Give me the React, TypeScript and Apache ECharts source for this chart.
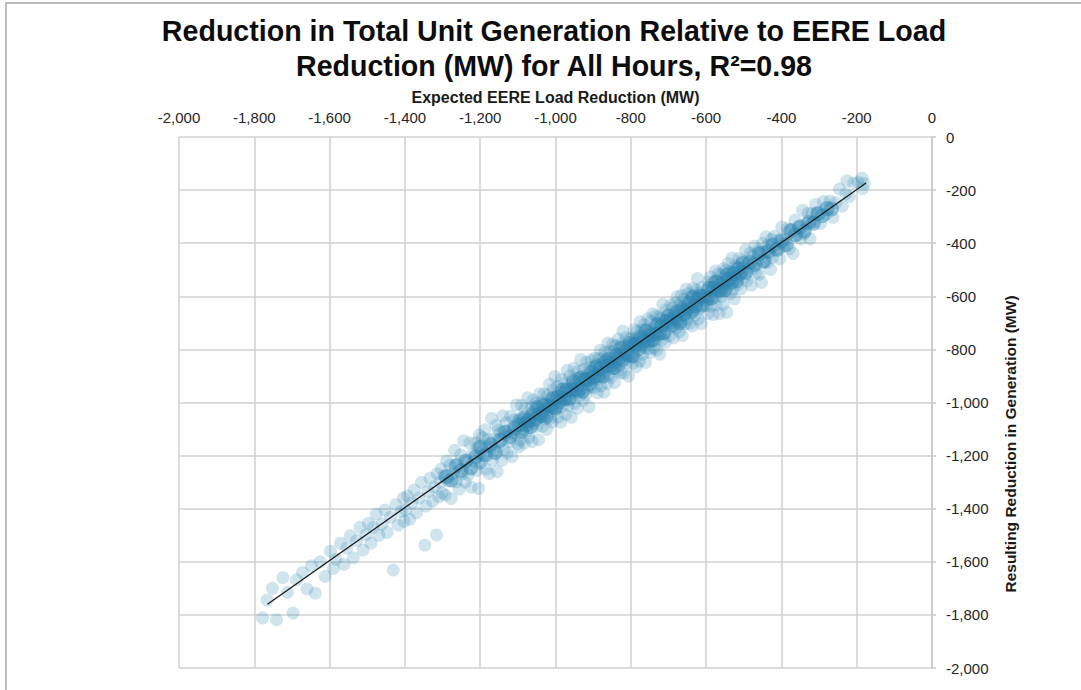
import React, { useEffect, useRef } from "react";
import * as echarts from "echarts";

const titleLines = [
  "Reduction in Total Unit Generation Relative to EERE Load",
  "Reduction (MW) for All Hours, R\u00b2=0.98",
];
const xAxisName = "Expected EERE Load Reduction (MW)";
const yAxisName = "Resulting Reduction in Generation (MW)";
const axisMin = -2000;
const axisMax = 0;
const axisStep = 200;

// Hourly points [expected EERE load reduction, resulting generation reduction], MW
// Wider spread of the cloud
const pointsTail: number[][] = [
  [-1778, -1812], [-1766, -1744], [-1752, -1700], [-1741, -1818], [-1724, -1660], [-1712, -1715],
  [-1697, -1793], [-1688, -1668], [-1672, -1640], [-1660, -1702], [-1648, -1615], [-1638, -1718], [-1625, -1600], [-1612, -1655],
  [-1598, -1560], [-1590, -1625], [-1583, -1590], [-1571, -1530], [-1562, -1610], [-1554, -1548], [-1545, -1502], [-1537, -1585],
  [-1528, -1520], [-1519, -1470], [-1511, -1556], [-1503, -1498],
  [-1497, -1455], [-1490, -1530], [-1484, -1470], [-1476, -1420], [-1469, -1500], [-1461, -1458], [-1453, -1405], [-1447, -1490],
  [-1438, -1432], [-1431, -1631], [-1424, -1385], [-1418, -1462], [-1410, -1410], [-1404, -1360], [-1402, -1448],
  [-1398, -1405], [-1393, -1352], [-1387, -1440], [-1381, -1378], [-1375, -1330], [-1369, -1415], [-1362, -1360], [-1356, -1300],
  [-1347, -1537], [-1344, -1390], [-1338, -1335], [-1333, -1285], [-1327, -1372], [-1322, -1318], [-1316, -1499], [-1314, -1268],
  [-1310, -1355], [-1306, -1300], [-1303, -1250], [-1301, -1340],
];

const pointsLow: number[][] = [
  [-1297, -1277], [-1293, -1348], [-1289, -1219], [-1285, -1295], [-1281, -1236], [-1277, -1362], [-1272, -1267], [-1268, -1180],
  [-1264, -1299], [-1260, -1230], [-1256, -1326], [-1252, -1197], [-1248, -1268], [-1244, -1144], [-1240, -1300], [-1236, -1224],
  [-1232, -1272], [-1228, -1153], [-1224, -1319], [-1220, -1195], [-1216, -1221], [-1212, -1152], [-1209, -1257], [-1206, -1168],
  [-1204, -1324], [-1202, -1122], [-1201, -1229], [-1200, -1192],
  [-1197, -1227], [-1194, -1132], [-1191, -1199], [-1188, -1103], [-1185, -1251], [-1182, -1167], [-1179, -1139], [-1176, -1268],
  [-1173, -1170], [-1170, -1060], [-1167, -1217], [-1164, -1138], [-1161, -1179], [-1158, -1086], [-1155, -1260], [-1152, -1104],
  [-1149, -1152], [-1146, -1113], [-1143, -1218], [-1140, -1050], [-1137, -1177], [-1134, -1124], [-1131, -1076], [-1128, -1190],
  [-1125, -1105], [-1122, -1147], [-1119, -1051], [-1116, -1204], [-1113, -1113], [-1110, -1065], [-1107, -1121], [-1104, -1009],
  [-1101, -1156], [-1099, -1069], [-1097, -1167],
  [-1095, -1060], [-1093, -1141], [-1090, -1010], [-1088, -1100], [-1086, -1064], [-1083, -1153], [-1081, -1023], [-1078, -1073],
  [-1076, -1106], [-1074, -982], [-1071, -1131], [-1069, -1054], [-1066, -1071], [-1064, -1020], [-1062, -1147], [-1059, -991],
  [-1057, -1079], [-1054, -1044], [-1052, -1002], [-1050, -1090], [-1047, -1019], [-1045, -1140], [-1042, -967], [-1040, -1055],
  [-1038, -1000], [-1035, -1090], [-1033, -1031], [-1030, -968], [-1028, -1063], [-1026, -1008], [-1023, -1101], [-1021, -973],
  [-1018, -1026], [-1016, -931], [-1014, -1059], [-1011, -986], [-1009, -1074], [-1006, -951], [-1004, -1022], [-1002, -902],
  [-1001, -1029], [-999, -987],
];

const pointsMid: number[][] = [
  [-997, -1017], [-995, -940], [-993, -1055], [-991, -961], [-988, -980], [-986, -1074], [-984, -912], [-982, -1017],
  [-980, -962], [-977, -982], [-975, -927], [-973, -1045], [-971, -946], [-969, -879], [-966, -1011], [-964, -961],
  [-962, -900], [-960, -985], [-958, -1056], [-955, -915], [-953, -965], [-951, -871], [-949, -1004], [-947, -932],
  [-944, -909], [-942, -1022], [-940, -882], [-938, -940], [-936, -976], [-933, -838], [-931, -949], [-929, -901],
  [-927, -992], [-925, -875], [-922, -912], [-920, -970], [-918, -848], [-916, -946], [-914, -892], [-911, -1016],
  [-909, -867], [-907, -915], [-905, -840], [-903, -941], [-901, -896],
  [-899, -884], [-897, -945], [-895, -833], [-893, -913], [-891, -856], [-889, -964], [-887, -882], [-885, -835],
  [-883, -915], [-881, -803], [-879, -937], [-877, -855], [-875, -883], [-873, -831], [-871, -961], [-869, -809],
  [-867, -882], [-865, -837], [-863, -928], [-861, -776], [-859, -897], [-857, -847], [-855, -807], [-853, -905],
  [-851, -851], [-849, -781], [-847, -872], [-845, -807], [-843, -925], [-841, -786], [-839, -849], [-837, -817],
  [-835, -880], [-833, -761], [-831, -861], [-829, -817], [-827, -887], [-825, -780], [-823, -841], [-821, -731],
  [-819, -889], [-817, -787], [-815, -818], [-813, -755], [-811, -851], [-809, -791], [-806, -901], [-803, -763],
];

const pointsHigh: number[][] = [
  [-799, -824], [-797, -757], [-795, -853], [-793, -781], [-791, -726], [-789, -829], [-787, -762], [-785, -865],
  [-783, -733], [-781, -786], [-779, -749], [-777, -845], [-775, -695], [-773, -788], [-771, -726], [-769, -819],
  [-767, -759], [-765, -707], [-763, -793], [-761, -849], [-759, -724], [-757, -767], [-755, -685], [-753, -798],
  [-751, -731], [-749, -811], [-747, -695], [-745, -745], [-743, -765], [-741, -666], [-739, -794], [-737, -722],
  [-735, -770], [-733, -673], [-731, -803], [-729, -701], [-727, -739], [-725, -677], [-723, -818], [-721, -683],
  [-719, -714], [-717, -765], [-715, -630], [-713, -741], [-711, -693], [-709, -774], [-707, -652], [-705, -707],
  [-699, -669], [-697, -749], [-695, -685], [-693, -631], [-691, -716], [-689, -644], [-687, -757], [-685, -667],
  [-683, -691], [-681, -626], [-679, -719], [-677, -602], [-675, -693], [-673, -668], [-671, -733], [-669, -631],
  [-667, -697], [-665, -597], [-663, -748], [-661, -639], [-659, -611], [-657, -669], [-655, -703], [-653, -573],
  [-651, -686], [-649, -637], [-647, -589], [-645, -703], [-643, -618], [-641, -646], [-639, -599], [-637, -712],
  [-635, -570], [-633, -655], [-631, -629], [-629, -671], [-627, -577], [-625, -640], [-623, -533], [-621, -686],
  [-619, -587], [-617, -645], [-615, -600], [-613, -703], [-611, -566],
];

const pointsTop: number[][] = [
  [-599, -634], [-597, -577], [-595, -665], [-593, -545], [-591, -601], [-589, -527], [-587, -637], [-585, -580],
  [-583, -548], [-581, -669], [-579, -564], [-577, -602], [-575, -505], [-573, -633], [-571, -543], [-569, -584],
  [-567, -515], [-565, -665], [-563, -555], [-561, -521], [-559, -601], [-557, -535], [-555, -630], [-553, -495],
  [-551, -556], [-549, -579], [-547, -502], [-545, -660], [-543, -531], [-541, -476], [-539, -559], [-537, -507],
  [-535, -590], [-533, -531], [-531, -456], [-529, -574], [-527, -509], [-525, -610], [-523, -485], [-521, -533],
  [-519, -494], [-516, -556], [-513, -458], [-510, -522], [-507, -572], [-504, -466], [-501, -493], [-498, -528],
  [-495, -425], [-492, -542], [-489, -474], [-486, -494], [-483, -438], [-480, -558], [-477, -447], [-474, -494],
  [-471, -411], [-468, -513], [-465, -463], [-462, -427], [-459, -517], [-456, -436], [-453, -548], [-450, -400],
  [-447, -472], [-444, -434], [-441, -376], [-438, -473], [-435, -407], [-432, -437], [-429, -499], [-426, -386],
  [-424, -454], [-419, -374], [-414, -422], [-409, -389], [-404, -459], [-399, -339], [-394, -412], [-389, -384],
  [-384, -346], [-379, -421], [-374, -349], [-369, -439], [-364, -314], [-359, -371], [-354, -339], [-349, -384],
  [-344, -276], [-339, -364], [-334, -326], [-329, -287], [-324, -384], [-319, -289], [-314, -319], [-309, -254],
  [-304, -284], [-296, -326], [-288, -243], [-280, -290], [-271, -241], [-263, -303], [-255, -247], [-246, -196],
  [-238, -260], [-229, -214], [-226, -165], [-219, -224], [-208, -173], [-196, -171], [-186, -155], [-184, -194], [-180, -175],
];

// Dense core of hours lying close to the fit
const coreLow: number[][] = [
  [-1290, -1280], [-1277, -1292], [-1264, -1239], [-1251, -1256], [-1238, -1220], [-1225, -1247], [-1212, -1204], [-1199, -1169],
  [-1186, -1198], [-1173, -1158], [-1160, -1188], [-1147, -1142], [-1134, -1112], [-1121, -1129], [-1108, -1096],
  [-1096, -1084], [-1090, -1108], [-1084, -1059], [-1078, -1084], [-1072, -1068], [-1066, -1091], [-1060, -1042], [-1054, -1064],
  [-1048, -1018], [-1042, -1044], [-1036, -1050], [-1030, -1010], [-1024, -1052], [-1018, -1010], [-1012, -1016], [-1006, -984],
  [-1000, -1020], [-994, -980], [-988, -996], [-982, -954],
  [-976, -986], [-970, -954], [-964, -986], [-958, -952], [-952, -924], [-946, -950], [-940, -956], [-934, -910],
  [-928, -958], [-922, -912], [-916, -914], [-910, -930], [-904, -886], [-898, -904], [-892, -866], [-886, -898],
  [-880, -872], [-874, -900], [-868, -848], [-862, -862],
];

const coreHigh: number[][] = [
  [-856, -836], [-850, -858], [-844, -868], [-838, -824], [-832, -834], [-826, -796], [-820, -838], [-814, -808],
  [-808, -820], [-802, -778], [-796, -824], [-790, -780], [-784, -780], [-778, -798], [-772, -756], [-766, -770],
  [-760, -732], [-754, -768], [-748, -746], [-742, -764],
  [-736, -742], [-730, -708], [-724, -740], [-718, -710], [-712, -738], [-706, -694], [-700, -674], [-694, -696],
  [-688, -708], [-682, -678], [-676, -658], [-670, -700], [-664, -650], [-658, -668], [-652, -652], [-646, -626],
  [-640, -658], [-634, -604], [-628, -636], [-622, -612],
  [-616, -600], [-610, -634], [-604, -600], [-598, -610], [-592, -570], [-586, -606], [-580, -570], [-574, -546],
  [-568, -574], [-562, -578], [-556, -550], [-550, -576], [-544, -520], [-538, -536], [-532, -546], [-526, -514],
  [-520, -542], [-514, -496], [-508, -510], [-502, -476],
  [-495, -510], [-483, -473], [-471, -479], [-459, -439], [-447, -467], [-435, -430], [-423, -408], [-411, -423],
  [-399, -391], [-387, -405], [-375, -353], [-363, -368], [-351, -339], [-339, -354], [-327, -321], [-315, -325],
  [-303, -289], [-291, -297], [-279, -269], [-267, -271],
];

// Linear fit endpoints
const trendX = [-1765, -175];
const trendY = [-1760, -173];

const fmt = (v: number) => v.toLocaleString("en-US");

export default function App() {
  const ref = useRef<HTMLDivElement>(null);
  useEffect(() => {
    document.body.style.margin = "0";
    if (!ref.current) return;
    const chart = echarts.init(ref.current, null, { renderer: "svg" });
    const font = "'Liberation Sans', Arial, sans-serif";
    const spreadData = [...pointsTail, ...pointsLow, ...pointsMid, ...pointsHigh, ...pointsTop];
    const coreData = [...coreLow, ...coreHigh];
    chart.setOption({
      animation: false,
      backgroundColor: "#ffffff",
      textStyle: { fontFamily: font },
      title: {
        text: titleLines.join("\n"),
        left: 549,
        top: 8,
        textAlign: "center",
        textStyle: {
          fontFamily: font,
          fontSize: 28.6,
          fontWeight: "bold",
          color: "#0d0d0d",
          lineHeight: 35,
        },
      },
      grid: { left: 179, right: 149, top: 137, bottom: 22 },
      xAxis: {
        type: "value",
        position: "top",
        min: axisMin,
        max: axisMax,
        interval: axisStep,
        name: xAxisName,
        nameLocation: "middle",
        nameGap: 25,
        nameTextStyle: { fontFamily: font, fontSize: 16, fontWeight: "bold", color: "#1a1a1a" },
        axisLine: { show: false },
        axisTick: { show: false },
        axisLabel: { margin: 12, fontSize: 15, color: "#262626", fontFamily: font, formatter: fmt },
        splitLine: { show: true, lineStyle: { color: "#d0d0d0", width: 1.5 } },
      },
      yAxis: {
        type: "value",
        position: "right",
        min: axisMin,
        max: axisMax,
        interval: axisStep,
        axisLine: { show: true, lineStyle: { color: "#c8c8c8", width: 1.5 } },
        axisTick: { show: true, length: 4, lineStyle: { color: "#c8c8c8", width: 1.5 } },
        axisLabel: { margin: 14, fontSize: 15, color: "#262626", fontFamily: font, formatter: fmt },
        splitLine: { show: true, lineStyle: { color: "#d0d0d0", width: 1.5 } },
      },
      graphic: [
        {
          type: "rect",
          shape: { x: 6, y: 3, width: 1200, height: 800 },
          style: { fill: "none", stroke: "#a8a8a8", lineWidth: 1.5 },
          silent: true,
        },
        {
          type: "text",
          x: 1010,
          y: 444,
          rotation: Math.PI / 2,
          style: {
            text: yAxisName,
            fontFamily: font,
            fontSize: 15.5,
            fontWeight: "bold",
            fill: "#1a1a1a",
            align: "center",
            verticalAlign: "middle",
          },
        },
      ],
      series: [
        {
          type: "scatter",
          data: spreadData,
          symbol: "circle",
          symbolSize: 13,
          itemStyle: { color: "#2b83b0", opacity: 0.22 },
          silent: true,
        },
        {
          type: "scatter",
          data: coreData,
          symbol: "circle",
          symbolSize: 15,
          itemStyle: { color: "#2b83b0", opacity: 0.45 },
          silent: true,
        },
        {
          type: "line",
          data: trendX.map((x, i) => [x, trendY[i]]),
          symbol: "none",
          lineStyle: { color: "#1a1a1a", width: 1.3 },
          silent: true,
        },
      ],
    });
    return () => chart.dispose();
  }, []);
  return <div ref={ref} style={{ width: 1081, height: 690 }} />;
}
